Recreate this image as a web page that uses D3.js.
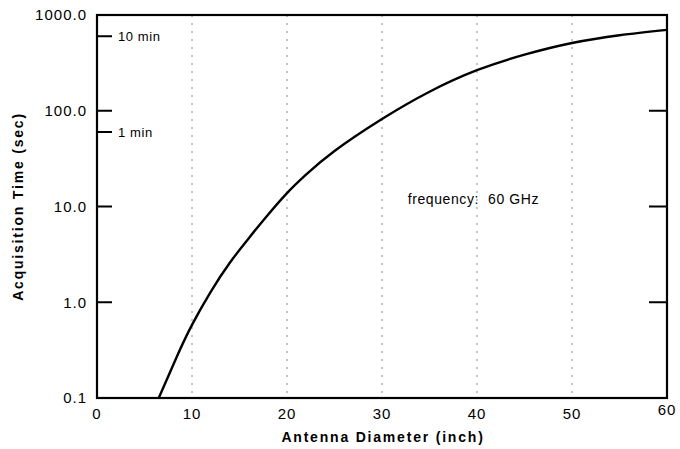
<!DOCTYPE html>
<html lang="en">
<head>
    <meta charset="UTF-8">
    <title>Acquisition Time vs Antenna Diameter</title>
    <script src="https://d3js.org/d3.v7.min.js"></script>
    <style>
        body { margin: 0; background: #fff; font-family: "Liberation Sans", Arial, sans-serif; }
        .tick-label { font-size: 15px; fill: #000; letter-spacing: 1px; }
        .axis-title { font-size: 14px; font-weight: bold; fill: #000; letter-spacing: 1.8px; }
        .note { font-size: 13px; fill: #000; letter-spacing: 0.6px; }
    </style>
</head>
<body>
<script>
    // curve: diameter (inch) -> acquisition time (sec)
    const diameters = [6.5, 8.4, 10, 12, 14, 16, 18, 20, 22, 25, 30, 35, 40, 45, 50, 55, 60];
    const acqTimes  = [0.1, 0.27, 0.58, 1.3, 2.6, 4.7, 8.2, 13.8, 21.5, 38, 82, 158, 265, 385, 510, 615, 700];

    const xTicks = [0, 10, 20, 30, 40, 50, 60];
    const gridX = [10, 20, 30, 40, 50];
    const yTicks = [0.1, 1, 10, 100, 1000];
    const yTickLabels = ["0.1", "1.0", "10.0", "100.0", "1000.0"];
    const minuteMarks = [60, 600];
    const minuteLabels = ["1 min", "10 min"];
    const rightTicks = [1, 10, 100];

    const width = 680, height = 449;
    const margin = { top: 15, right: 13, bottom: 51, left: 97 };
    const w = width - margin.left - margin.right,
          h = height - margin.top - margin.bottom;

    const svg = d3.select("body").append("svg")
        .attr("width", width)
        .attr("height", height);

    const g = svg.append("g")
        .attr("transform", `translate(${margin.left},${margin.top})`);

    const x = d3.scaleLinear().domain([0, 60]).range([0, w]);
    const y = d3.scaleLog().domain([0.1, 1000]).range([h, 0]);

    // dotted vertical grid
    g.selectAll(".grid")
        .data(gridX)
        .enter()
        .append("line")
        .attr("x1", d => x(d)).attr("x2", d => x(d))
        .attr("y1", 0).attr("y2", h)
        .attr("stroke", "#888")
        .attr("stroke-width", 1)
        .attr("stroke-dasharray", "2,6");

    // frame
    g.append("rect")
        .attr("width", w).attr("height", h)
        .attr("fill", "none")
        .attr("stroke", "#000")
        .attr("stroke-width", 2.2);

    // left inward ticks
    g.selectAll(".ltick")
        .data(yTicks.slice(1, 4).concat(minuteMarks))
        .enter()
        .append("line")
        .attr("x1", 0).attr("x2", 15)
        .attr("y1", d => y(d)).attr("y2", d => y(d))
        .attr("stroke", "#000").attr("stroke-width", 2);

    // right inward ticks
    g.selectAll(".rtick")
        .data(rightTicks)
        .enter()
        .append("line")
        .attr("x1", w - 18).attr("x2", w)
        .attr("y1", d => y(d)).attr("y2", d => y(d))
        .attr("stroke", "#000").attr("stroke-width", 2);

    // y tick labels
    g.selectAll(".ylab")
        .data(yTicks)
        .enter()
        .append("text")
        .attr("class", "tick-label")
        .attr("x", -10)
        .attr("y", d => y(d))
        .attr("dy", "0.35em")
        .attr("text-anchor", "end")
        .text((d, i) => yTickLabels[i]);

    // minute labels
    g.selectAll(".mlab")
        .data(minuteMarks)
        .enter()
        .append("text")
        .attr("class", "note")
        .attr("x", 21)
        .attr("y", d => y(d))
        .attr("dy", "0.35em")
        .text((d, i) => minuteLabels[i]);

    // x tick labels
    g.selectAll(".xlab")
        .data(xTicks)
        .enter()
        .append("text")
        .attr("class", "tick-label")
        .attr("x", d => x(d))
        .attr("y", d => d === 60 ? h + 17 : h + 21)
        .attr("text-anchor", "middle")
        .text(d => d);

    // curve
    const pts = diameters.map((d, i) => [d, acqTimes[i]]);
    g.append("path")
        .datum(pts)
        .attr("fill", "none")
        .attr("stroke", "#000")
        .attr("stroke-width", 2.4)
        .attr("d", d3.line()
            .x(d => x(d[0]))
            .y(d => y(d[1]))
            .curve(d3.curveNatural));

    // annotation
    g.append("text")
        .attr("class", "note")
        .style("font-size", "14px")
        .attr("x", x(32.7))
        .attr("y", y(10) - 7)
        .attr("dy", "0.35em")
        .attr("xml:space", "preserve")
        .text("frequency:  60 GHz");

    // axis titles
    svg.append("text")
        .attr("class", "axis-title")
        .attr("x", 383)
        .attr("y", 442)
        .attr("text-anchor", "middle")
        .text("Antenna Diameter (inch)");

    svg.append("text")
        .attr("class", "axis-title")
        .attr("transform", `translate(23,${margin.top + y(10)}) rotate(-90)`)
        .attr("text-anchor", "middle")
        .text("Acquisition Time (sec)");
</script>
</body>
</html>
